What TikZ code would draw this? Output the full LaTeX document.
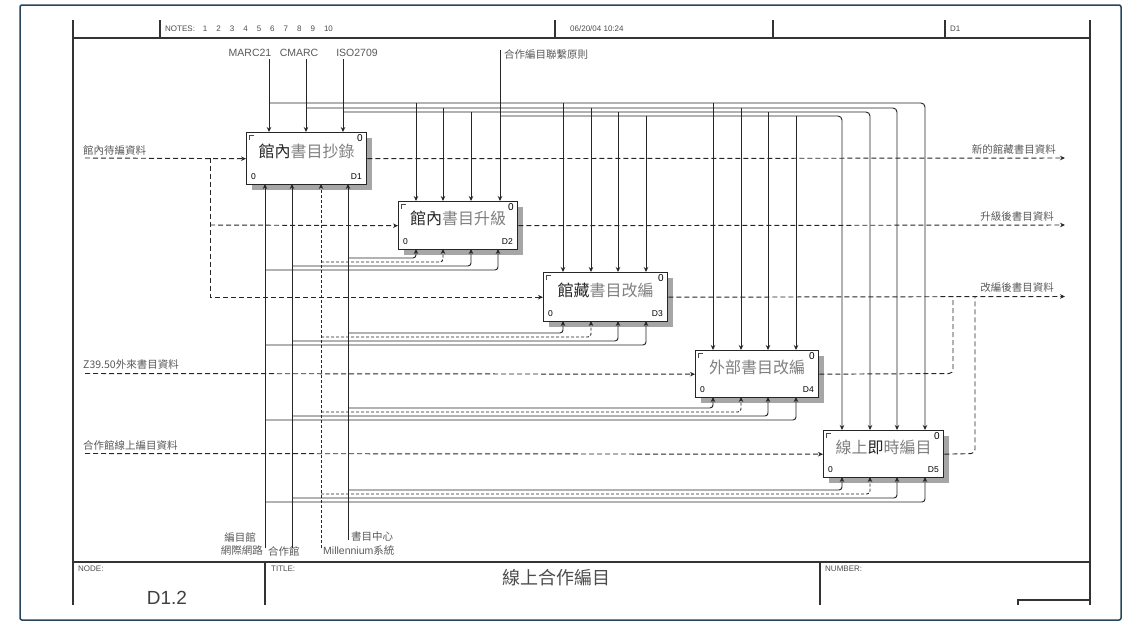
\documentclass[tikz,border=0pt]{standalone}
\usepackage{fontspec}
\setmainfont{Liberation Sans}
\newfontfamily\cjk{Noto Sans CJK TC}
\usetikzlibrary{arrows.meta}
\tikzset{
  tip/.style={-{Stealth[length=5pt,width=4.5pt]}},
  lbl/.style={font=\fontsize{10.5}{11}\selectfont, text=black!65, inner sep=0},
  clbl/.style={font=\cjk\fontsize{10.5}{11}\selectfont, text=black!65, inner sep=0},
  small/.style={font=\fontsize{8}{9}\selectfont, text=black!70, inner sep=0},
  boxnode/.style={draw=black!85, line width=1.4pt, fill=white, inner sep=0, anchor=north west},
  shade/.style={fill=black!35},
  ctl/.style={draw=black!85, line width=0.95pt},
  flow/.style={draw=black!85, line width=0.95pt, dash pattern=on 5pt off 3pt},
  mechd/.style={draw=black!85, line width=0.95pt, dash pattern=on 3pt off 2pt},
  formline/.style={draw=black!80, line width=1.1pt},
  outerframe/.style={draw={rgb,255:red,40;green,70;blue,90}, line width=1.5pt},
  ttl/.style={font=\cjk\fontsize{16}{16}\selectfont, text=black!50, inner sep=0},
}
\newcommand{\ibox}[6]{%
  \fill[shade] ({#2+6},{#3+6}) rectangle ({#2+#4+6},{#3+#5+6});
  \node[boxnode, minimum width=#4pt, minimum height=#5pt] (#1) at (#2,#3) {};
  \draw[black!70, line width=0.5pt] ({#2+3},{#3+8}) -- ({#2+3},{#3+3}) -- ({#2+8},{#3+3});
  \node[font=\fontsize{8.5}{9}\selectfont, anchor=south west, inner sep=0] at ({#2+5},{#3+#5-4}) {0};
  \node[font=\fontsize{8.5}{9}\selectfont, anchor=south east, inner sep=0] at ({#2+#4-4},{#3+#5-4}) {#6};
  \node[font=\fontsize{10}{10}\selectfont, anchor=north east, inner sep=0] at ({#2+#4-3},{#3+2}) {0};
}
\begin{document}
\begin{tikzpicture}[x=1pt,y=-1pt]
\useasboundingbox (0,0) rectangle (1141,624);
\draw[outerframe, rounded corners=2pt] (20,5) rectangle (1121,620);

% form lines
\draw[formline] (73,20) -- (73,605);
\draw[formline] (1090,20) -- (1090,605);
\draw[formline] (73,38) -- (1090,38);
\draw[formline] (73,562) -- (1090,562);
\draw[formline] (160,20) -- (160,38);
\draw[formline] (555,20) -- (555,38);
\draw[formline] (773,20) -- (773,38);
\draw[formline] (945,20) -- (945,38);
\draw[formline] (265,562) -- (265,605);
\draw[formline] (820,562) -- (820,605);
\draw[formline] (1018,605) -- (1018,600) -- (1090,600);
\node[small, anchor=west] (notes) at (165,29) {NOTES:\hspace{8pt}1\hspace{9pt}2\hspace{9pt}3\hspace{9pt}4\hspace{9pt}5\hspace{9pt}6\hspace{9pt}7\hspace{9pt}8\hspace{9pt}9\hspace{9pt}10};
\node[small, anchor=west] (date) at (570,29) {06/20/04 10:24};
\node[small, anchor=west] (rev) at (950,29) {D1};
\node[small, anchor=north west] (nodelbl) at (78,566) {NODE:};
\node[small, anchor=north west] (titlelbl) at (271,566) {TITLE:};
\node[small, anchor=north west] (numlbl) at (825,566) {NUMBER:};
\node[font=\fontsize{19}{19}\selectfont, text=black!75, inner sep=0] (nodenum) at (167,598) {D1.2};
\node[font=\cjk\fontsize{18}{18}\selectfont, text=black!70, inner sep=0] (title) at (556,578) {線上合作編目};

% boxes
\ibox{B1}{246}{132}{120}{52}{D1}
\ibox{B2}{398}{201}{119}{48}{D2}
\ibox{B3}{543}{272}{124}{49}{D3}
\ibox{B4}{695}{350}{123}{47}{D4}
\ibox{B5}{823}{430}{120}{47}{D5}
\node[ttl] at ([yshift=7pt]B1.center) {{\color{black!85}館內}書目抄錄};
\node[ttl] at ([yshift=7pt]B2.center) {{\color{black!85}館內}書目升級};
\node[ttl] at ([yshift=7pt]B3.center) {{\color{black!85}館藏}書目改編};
\node[ttl] at ([yshift=7pt]B4.center) {外部書目改編};
\node[ttl] at ([yshift=7pt]B5.center) {線上{\color{black!85}即}時編目};

% control labels
\node[lbl] (c1) at (250,53) {MARC21};
\node[lbl] (c2) at (299,53) {CMARC};
\node[lbl] (c3) at (357,53) {ISO2709};
\node[clbl, anchor=west] (c4) at (504,55) {合作編目聯繫原則};

% controls into B1
\draw[ctl, tip] (269,59) -- (269,132);
\draw[ctl, tip] (306,59) -- (306,132);
\draw[ctl, tip] (343,59) -- (343,132);
\draw[ctl, tip] (500,50) -- (500,201);
% buses to B5
\draw[ctl, tip, rounded corners=4pt] (269,103) -- (925,103) -- (925,430);
\draw[ctl, tip, rounded corners=4pt] (306,108) -- (897,108) -- (897,430);
\draw[ctl, tip, rounded corners=4pt] (343,112) -- (870,112) -- (870,430);
\draw[ctl, tip, rounded corners=4pt] (500,116) -- (842,116) -- (842,430);
% drops
\foreach \x/\y in {416/103,443/108,471/112}{\draw[ctl, tip] (\x,\y) -- (\x,201);}
\foreach \x/\y in {563/103,591/108,618/112,646/116}{\draw[ctl, tip] (\x,\y) -- (\x,272);}
\foreach \x/\y in {713/103,741/108,768/112,796/116}{\draw[ctl, tip] (\x,\y) -- (\x,350);}

% inputs
\node[clbl, anchor=south west] (i1) at (83,156) {館內待編資料};
\node[clbl, anchor=south west] (i2) at (83,370) {Z39.50外來書目資料};
\node[clbl, anchor=south west] (i3) at (83,451) {合作館線上編目資料};
\draw[flow, tip] (85,158) -- (B1.west);
\draw[flow, tip] (210,158) |- (B3.west);
\draw[flow, tip] (210,225) -- (B2.west);
\draw[flow, tip] (85,373.5) -- (B4.west);
\draw[flow, tip] (85,453.5) -- (B5.west);

% outputs
\coordinate (o1) at (1065,158);
\coordinate (o2) at (1065,225);
\coordinate (o3) at (1065,296.5);
\node[clbl, anchor=south east] (ol1) at (1056,155) {新的館藏書目資料};
\node[clbl, anchor=south east] (ol2) at (1054,222) {升級後書目資料};
\node[clbl, anchor=south east] (ol3) at (1054,293) {改編後書目資料};
\draw[flow, tip] (B1.east) -- (o1);
\draw[flow, tip] (B2.east) -- (o2);
\draw[flow, tip] (B3.east) -- (o3);
\draw[flow, rounded corners=4pt] (B4.east) -- (953,373.5) -- (953,296.5);
\draw[flow, rounded corners=4pt] (B5.east) -- (975,453.5) -- (975,296.5);

% mechanisms
\node[clbl] (m1a) at (240,537) {編目館};
\node[clbl, anchor=east] (m1b) at (263,551) {網際網路};
\node[clbl, anchor=west] (m2) at (268,551) {合作館};
\node[lbl, anchor=west] (m3) at (323,551) {Millennium{\cjk 系統}};
\node[clbl, anchor=west] (m4) at (351,537) {書目中心};
\draw[ctl, tip] (265,548) -- (265,184);
\draw[ctl, tip] (292,548) -- (292,184);
\draw[mechd, tip] (321,548) -- (321,184);
\draw[ctl, tip] (348,540) -- (348,184);
% branches
\foreach \L/\a/\b/\c/\d/\bot in {258/416/443/471/498/249, 333/563/591/618/646/321, 408/713/741/768/796/397, 490/842/870/897/925/477}{
  \draw[ctl, tip, rounded corners=3pt] (348,\L) -- (\a,\L) -- (\a,\bot);
  \draw[mechd, tip, rounded corners=3pt] (321,\L+4) -- (\b,\L+4) -- (\b,\bot);
  \draw[ctl, tip, rounded corners=3pt] (292,\L+8) -- (\c,\L+8) -- (\c,\bot);
  \draw[ctl, tip, rounded corners=3pt] (265,\L+12) -- (\d,\L+12) -- (\d,\bot);
}
\end{tikzpicture}
\end{document}
